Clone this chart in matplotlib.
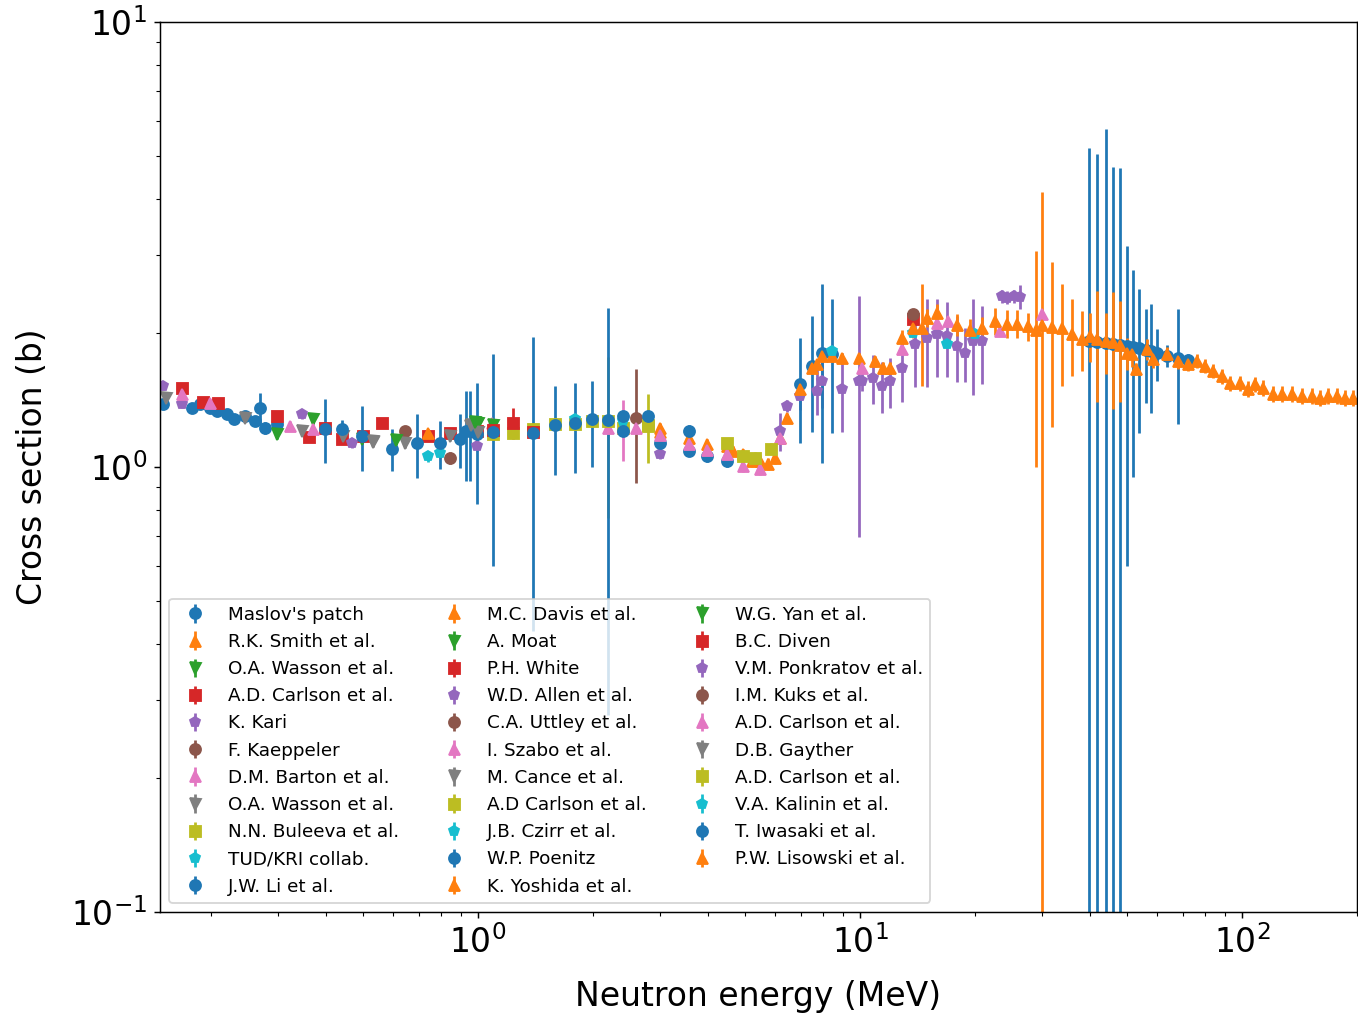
import matplotlib
matplotlib.use("Agg")
import matplotlib.pyplot as plt

# ---- data (energy in MeV, cross section in b, symmetric error) ----
maslov_x = [0.150, 0.178, 0.187, 0.199, 0.207, 0.220, 0.229, 0.2455, 0.26, 0.269, 0.277, 0.298,
            3.57, 3.98, 4.49]
maslov_y = [1.385, 1.357, 1.385, 1.36, 1.336, 1.315, 1.282, 1.30, 1.27, 1.357, 1.224, 1.249,
            1.086, 1.058, 1.032]
maslov_e = [0.03, 0.03, 0.03, 0.03, 0.03, 0.03, 0.03, 0.03, 0.03, 0.11, 0.04, 0.04,
            0.03, 0.03, 0.03]

smith_x = [3.0, 3.57, 3.98, 4.49, 4.65, 4.94, 5.21, 5.47, 5.74, 5.99]
smith_y = [1.224, 1.162, 1.126, 1.115, 1.086, 1.069, 1.032, 1.032, 1.016, 1.048]
smith_e = [0.03] * 10

wasson1_x = [0.298, 0.370, 0.497, 1.0]
wasson1_y = [1.186, 1.282, 1.156, 1.256]
wasson1_e = [0.03] * 4

carlson1_x = [0.168, 0.19, 0.208, 0.298, 0.36, 0.3975, 0.441, 0.50, 0.561, 0.74, 0.845, 0.994]
carlson1_y = [1.505, 1.40, 1.39, 1.30, 1.17, 1.224, 1.156, 1.174, 1.256, 1.174, 1.19, 1.205]
carlson1_e = [0.03] * 12

kari_x = [0.150, 0.168, 0.346, 0.468, 0.994]
kari_y = [1.52, 1.385, 1.315, 1.132, 1.115]
kari_e = [0.03] * 5

kaeppeler_x = [0.644, 0.845]
kaeppeler_y = [1.205, 1.048]
kaeppeler_e = [0.03, 0.03]

barton_x = [0.168, 0.199, 0.322, 0.370, 1.09]
barton_y = [1.46, 1.39, 1.236, 1.217, 1.256]
barton_e = [0.03] * 5

wasson2_x = [0.2455, 0.346, 0.443, 0.53, 0.644, 0.845, 0.953]
wasson2_y = [1.289, 1.205, 1.174, 1.144, 1.132, 1.174, 1.236]
wasson2_e = [0.03] * 7

buleeva_x = [1.095, 1.235, 1.393, 1.591, 1.795, 1.988, 2.40, 2.786]
buleeva_y = [1.186, 1.19, 1.217, 1.249, 1.249, 1.269, 1.224, 1.236]
buleeva_e = [0.03] * 8

tud_x = [0.74, 0.795]
tud_y = [1.058, 1.075]
tud_e = [0.03, 0.03]

li_x = [0.3975, 0.441, 0.497, 0.596, 0.692, 0.795, 0.897, 0.93, 0.953, 0.994]
li_y = [1.22, 1.217, 1.175, 1.10, 1.13, 1.13, 1.155, 1.205, 1.205, 1.185]
li_e = [0.2, 0.06, 0.195, 0.12, 0.185, 0.14, 0.16, 0.275, 0.275, 0.36]

davis_x = [0.74, 2.995, 6.17]
davis_y = [1.19, 1.20, 1.162]
davis_e = [0.03] * 3

moat_x = [0.994, 1.095]
moat_y = [1.25, 1.24]
moat_e = [0.03, 0.03]

white_x = [1.095, 1.235, 1.393]
white_y = [1.21, 1.256, 1.20]
white_e = [0.04, 0.1, 0.04]

allen_x = [2.995, 6.17, 6.44, 6.96, 7.72, 7.95, 8.97, 9.94, 10.1, 10.8, 11.4, 12.0, 12.88]
allen_y = [1.07, 1.205, 1.371, 1.444, 1.48, 1.56, 1.50, 1.56, 1.56, 1.585, 1.52, 1.56, 1.669]
allen_e = [0.03, 0.12, 0.04, 0.1, 0.17, 0.2, 0.3, 0.865, 0.08, 0.2, 0.2, 0.2, 0.27]

uttley_x = [2.59]
uttley_y = [1.29]
uttley_e = [0.37]

szabo_x = [2.19, 2.40, 2.59, 2.995]
szabo_y = [1.224, 1.224, 1.224, 1.162]
szabo_e = [0.03, 0.19, 0.03, 0.03]

cance_x = [0.96, 1.0]
cance_y = [1.24, 1.20]
cance_e = [0.03, 0.03]

carlson2_x = [2.19, 2.786]
carlson2_y = [1.27, 1.24]
carlson2_e = [0.50, 0.22]

czirr_x = [1.795, 2.40]
czirr_y = [1.28, 1.27]
czirr_e = [0.03, 0.03]

poenitz_x = [1.095, 1.393, 1.591, 1.795, 1.988, 2.19, 2.40, 2.40, 2.786, 2.995, 3.57,
             6.96, 7.49, 7.95, 8.45]
poenitz_y = [1.197, 1.193, 1.24, 1.257, 1.28, 1.277, 1.30, 1.205, 1.30, 1.132, 1.205,
             1.54, 1.69, 1.80, 1.79]
poenitz_e = [0.598, 0.765, 0.28, 0.29, 0.28, 1.0, 0.03, 0.03, 0.03, 0.07, 0.04,
             0.41, 0.49, 0.78, 0.6]

yoshida_x = [6.44, 6.96, 7.49, 7.72, 7.95, 8.45, 8.97, 9.94]
yoshida_y = [1.289, 1.497, 1.669, 1.70, 1.776, 1.776, 1.757, 1.757]
yoshida_e = [0.03, 0.04, 0.05, 0.05, 0.05, 0.05, 0.05, 0.05]

yan_x = [0.61, 0.98]
yan_y = [1.15, 1.26]
yan_e = [0.03, 0.03]

diven_x = [13.8]
diven_y = [2.15]
diven_e = [0.05]

ponkratov_x = [13.93, 14.98, 15.91, 16.9, 17.94, 18.83, 19.77, 20.85, 23.5, 24.3, 25.3, 26.2]
ponkratov_y = [1.89, 1.95, 1.99, 1.97, 1.87, 1.80, 1.92, 1.92, 2.42, 2.40, 2.42, 2.41]
ponkratov_e = [0.38, 0.44, 0.40, 0.38, 0.32, 0.25, 0.47, 0.38, 0.08, 0.08, 0.08, 0.15]

kuks_x = [13.77]
kuks_y = [2.21]
kuks_e = [0.05]

carlson3_x = [2.995, 3.57, 3.98, 4.49, 4.94, 5.47, 6.17, 10.1, 12.88, 15.91, 17.0, 23.2, 29.9]
carlson3_y = [1.18, 1.126, 1.09, 1.069, 1.005, 0.99, 1.16, 1.669, 1.84, 2.11, 2.13, 2.02, 2.21]
carlson3_e = [0.03] * 13

gayther_x = [0.152, 0.53]
gayther_y = [1.43, 1.14]
gayther_e = [0.03, 0.03]

carlson4_x = [4.49, 4.94, 5.3, 5.86]
carlson4_y = [1.13, 1.058, 1.048, 1.10]
carlson4_e = [0.03] * 4

kalinin_x = [8.45, 13.77, 16.9, 20.0]
kalinin_y = [1.82, 2.0, 1.89, 1.99]
kalinin_e = [0.04] * 4

iwasaki_x = [39.8, 41.7, 44.0, 45.9, 47.9, 50.0, 51.8, 53.7, 56.1, 57.8, 59.9, 63.6, 68.0, 72.2]
iwasaki_y = [1.92, 1.91, 1.90, 1.89, 1.88, 1.87, 1.86, 1.85, 1.83, 1.82, 1.80, 1.78, 1.76, 1.74]
iwasaki_e = [3.3, 3.15, 3.85, 2.83, 2.81, 1.27, 0.91, 0.66, 0.44, 0.5, 0.24, 0.1, 0.51, 0.05]

lisowski_x = [10.95, 11.5, 11.98, 12.88, 13.77, 14.53, 14.98, 15.91, 17.94, 19.4, 20.85, 22.56,
              24.26, 25.76, 27.5, 28.9, 29.9, 31.8, 33.8, 35.9, 38.0, 40.0, 41.7, 44.0, 45.9,
              47.9, 50.0, 51.6, 52.9, 56.5, 58.5, 63.6, 68.0, 72.2, 76.3, 80.0, 84.0, 88.7,
              93.0, 98.8, 103.7, 108.2, 113.5, 120.5, 127.3, 135.2, 143.6, 152.5, 160.0,
              168.0, 177.3, 186.0, 195.0]
lisowski_y = [1.73, 1.67, 1.67, 1.95, 2.05, 2.05, 2.16, 2.22, 2.09, 2.03, 2.05, 2.13,
              2.10, 2.10, 2.07, 2.03, 2.08, 2.06, 2.05, 1.99, 1.94, 1.97, 1.94, 1.92, 1.91,
              1.88, 1.80, 1.795, 1.66, 1.84, 1.75, 1.795, 1.73, 1.70, 1.73, 1.686, 1.644, 1.60,
              1.545, 1.545, 1.497, 1.537, 1.505, 1.459, 1.459, 1.459, 1.444, 1.444, 1.429,
              1.444, 1.444, 1.429, 1.429]
lisowski_e = [0.05, 0.05, 0.05, 0.08, 0.1, 0.53, 0.1, 0.1, 0.12, 0.12, 0.12, 0.15,
              0.15, 0.15, 0.15, 1.03, 2.07, 0.83, 0.53, 0.39, 0.30, 0.25, 0.54, 0.3, 0.56,
              0.48, 0.15, 0.12, 0.05, 0.1, 0.08, 0.07, 0.07, 0.06, 0.06, 0.06, 0.06, 0.06,
              0.06, 0.06, 0.06, 0.06, 0.06, 0.06, 0.06, 0.06, 0.06, 0.06, 0.06,
              0.06, 0.06, 0.06, 0.06]

series = [
    ("Maslov's patch", maslov_x, maslov_y, maslov_e),
    ("R.K. Smith et al.", smith_x, smith_y, smith_e),
    ("O.A. Wasson et al.", wasson1_x, wasson1_y, wasson1_e),
    ("A.D. Carlson et al.", carlson1_x, carlson1_y, carlson1_e),
    ("K. Kari", kari_x, kari_y, kari_e),
    ("F. Kaeppeler", kaeppeler_x, kaeppeler_y, kaeppeler_e),
    ("D.M. Barton et al.", barton_x, barton_y, barton_e),
    ("O.A. Wasson et al.", wasson2_x, wasson2_y, wasson2_e),
    ("N.N. Buleeva et al.", buleeva_x, buleeva_y, buleeva_e),
    ("TUD/KRI collab.", tud_x, tud_y, tud_e),
    ("J.W. Li et al.", li_x, li_y, li_e),
    ("M.C. Davis et al.", davis_x, davis_y, davis_e),
    ("A. Moat", moat_x, moat_y, moat_e),
    ("P.H. White", white_x, white_y, white_e),
    ("W.D. Allen et al.", allen_x, allen_y, allen_e),
    ("C.A. Uttley et al.", uttley_x, uttley_y, uttley_e),
    ("I. Szabo et al.", szabo_x, szabo_y, szabo_e),
    ("M. Cance et al.", cance_x, cance_y, cance_e),
    ("A.D Carlson et al.", carlson2_x, carlson2_y, carlson2_e),
    ("J.B. Czirr et al.", czirr_x, czirr_y, czirr_e),
    ("W.P. Poenitz", poenitz_x, poenitz_y, poenitz_e),
    ("K. Yoshida et al.", yoshida_x, yoshida_y, yoshida_e),
    ("W.G. Yan et al.", yan_x, yan_y, yan_e),
    ("B.C. Diven", diven_x, diven_y, diven_e),
    ("V.M. Ponkratov et al.", ponkratov_x, ponkratov_y, ponkratov_e),
    ("I.M. Kuks et al.", kuks_x, kuks_y, kuks_e),
    ("A.D. Carlson et al.", carlson3_x, carlson3_y, carlson3_e),
    ("D.B. Gayther", gayther_x, gayther_y, gayther_e),
    ("A.D. Carlson et al.", carlson4_x, carlson4_y, carlson4_e),
    ("V.A. Kalinin et al.", kalinin_x, kalinin_y, kalinin_e),
    ("T. Iwasaki et al.", iwasaki_x, iwasaki_y, iwasaki_e),
    ("P.W. Lisowski et al.", lisowski_x, lisowski_y, lisowski_e),
]

markers = ['o', '^', 'v', 's', 'p']
colors = plt.rcParams['axes.prop_cycle'].by_key()['color']

dpi = 132
fig = plt.figure(figsize=(1358 / dpi, 1024 / dpi), dpi=dpi)
ax = fig.add_axes([160 / 1358, 112 / 1024, 1197 / 1358, 890 / 1024])

for i, (label, x, y, e) in enumerate(series):
    ax.errorbar(x, y, yerr=e, fmt=markers[i % 5], color=colors[i % 10], label=label)

ax.set_xscale('log')
ax.set_yscale('log')
ax.set_xlim(0.147, 200)
ax.set_ylim(0.1, 10)
ax.set_xlabel('Neutron energy (MeV)', fontsize=18, labelpad=11)
ax.set_ylabel('Cross section (b)', fontsize=18, labelpad=12)
ax.tick_params(labelsize=18)
ax.legend(loc='lower left', ncol=3)

fig.savefig('out.png', dpi=dpi)
